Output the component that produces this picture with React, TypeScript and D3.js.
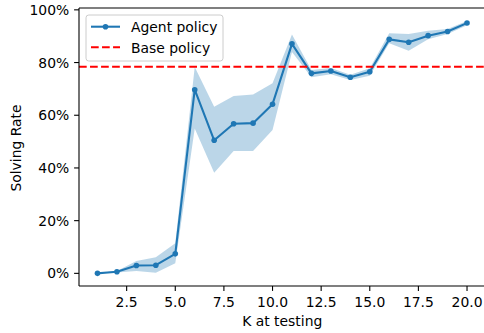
import React from "react";
import * as d3 from "d3";

// K values used at test time
const kValues = [1, 2, 3, 4, 5, 6, 7, 8, 9, 10, 11, 12, 13, 14, 15, 16, 17, 18, 19, 20];
// Mean solving rate of the agent policy (%)
const agentMean = [0, 0.6, 3.0, 3.1, 7.4, 69.7, 50.5, 56.8, 57.0, 64.2, 87.1, 75.9, 76.8, 74.4, 76.5, 88.8, 87.7, 90.2, 91.8, 95.0];
// Spread band around the mean (%)
const agentUpper = [0.1, 0.9, 4.7, 6.1, 11.4, 78.3, 63.2, 67.3, 67.9, 72.1, 90.6, 77.2, 77.9, 75.4, 77.8, 91.1, 90.8, 92.1, 92.7, 95.8];
const agentLower = [0, 0.3, 0.9, 0.2, 3.8, 55.0, 38.2, 46.4, 46.4, 54.4, 84.0, 74.4, 75.6, 73.4, 75.0, 87.3, 84.5, 88.8, 90.8, 94.2];
// Base policy reference level (%)
const baseRate = 78.4;

const xTicks = [2.5, 5.0, 7.5, 10.0, 12.5, 15.0, 17.5, 20.0];
const yTicks = [0, 20, 40, 60, 80, 100];

const W = 484;
const H = 333;
const left = 79;
const right = 485.5;
const top = 8;
const bottom = 286;
const FONT = "'DejaVu Sans', sans-serif";
const FS = 13.9;
const BLUE = "#1f77b4";

export default function App() {
  const x = d3.scaleLinear().domain([0.05, 20.95]).range([left, right]);
  const y = d3.scaleLinear().domain([-4.8, 100.7]).range([bottom, top]);

  const rows = kValues.map((k, i) => ({ k, m: agentMean[i], lo: agentLower[i], hi: agentUpper[i] }));
  const band = d3
    .area<(typeof rows)[number]>()
    .x((d) => x(d.k))
    .y0((d) => y(d.lo))
    .y1((d) => y(d.hi))(rows);
  const line = d3
    .line<(typeof rows)[number]>()
    .x((d) => x(d.k))
    .y((d) => y(d.m))(rows);

  return (
    <svg
      width={W}
      height={H}
      style={{ position: "absolute", left: 0, top: 0, background: "#fff" }}
      fontFamily={FONT}
    >
      <defs>
        <clipPath id="plot-area">
          <rect x={left} y={top} width={right - left} height={bottom - top} />
        </clipPath>
      </defs>
      <rect x={0} y={0} width={W} height={H} fill="#fff" />

      <g clipPath="url(#plot-area)">
        <path d={band ?? ""} fill={BLUE} fillOpacity={0.3} stroke="none" />
        <path d={line ?? ""} fill="none" stroke={BLUE} strokeWidth={2.08} strokeLinejoin="round" strokeLinecap="square" />
        {rows.map((d) => (
          <circle key={d.k} cx={x(d.k)} cy={y(d.m)} r={2.8} fill={BLUE} />
        ))}
        <line
          x1={left}
          x2={right}
          y1={y(baseRate)}
          y2={y(baseRate)}
          stroke="#ff0000"
          strokeWidth={2.08}
          strokeDasharray="7.7 3.33"
        />
      </g>

      {/* spines */}
      <line x1={left} x2={left} y1={top} y2={bottom} stroke="#000" strokeWidth={1.1} />
      <line x1={left} x2={right} y1={bottom} y2={bottom} stroke="#000" strokeWidth={1.1} />
      <line x1={left} x2={right} y1={top} y2={top} stroke="#000" strokeWidth={1.1} />

      {/* y axis */}
      {yTicks.map((t) => (
        <g key={t}>
          <line x1={left - 4.9} x2={left} y1={y(t)} y2={y(t)} stroke="#000" strokeWidth={1.1} />
          <text x={left - 9.8} y={y(t) + 5.05} textAnchor="end" fontSize={FS} fill="#000">
            {`${t}%`}
          </text>
        </g>
      ))}

      {/* x axis */}
      {xTicks.map((t) => (
        <g key={t}>
          <line x1={x(t)} x2={x(t)} y1={bottom} y2={bottom + 4.9} stroke="#000" strokeWidth={1.1} />
          <text x={x(t)} y={306.7} textAnchor="middle" fontSize={FS} fill="#000">
            {t.toFixed(1)}
          </text>
        </g>
      ))}

      <text x={(left + right) / 2} y={326} textAnchor="middle" fontSize={FS} fill="#000">
        K at testing
      </text>
      <text
        transform={`translate(21.2, ${(top + bottom) / 2 + 1}) rotate(-90)`}
        textAnchor="middle"
        fontSize={FS}
        fill="#000"
      >
        Solving Rate
      </text>

      {/* legend */}
      <g>
        <rect x={86} y={15} width={137} height={46} rx={2.8} ry={2.8} fill="#fff" fillOpacity={0.8} stroke="#cccccc" strokeWidth={1} />
        <line x1={91} x2={120} y1={26.7} y2={26.7} stroke={BLUE} strokeWidth={2.08} />
        <circle cx={105.5} cy={26.7} r={2.8} fill={BLUE} />
        <text x={131} y={31.6} fontSize={FS} fill="#000">Agent policy</text>
        <line x1={91} x2={120} y1={47.3} y2={47.3} stroke="#ff0000" strokeWidth={2.08} strokeDasharray="7.7 3.33" />
        <text x={131} y={52.5} fontSize={FS} fill="#000">Base policy</text>
      </g>
    </svg>
  );
}
